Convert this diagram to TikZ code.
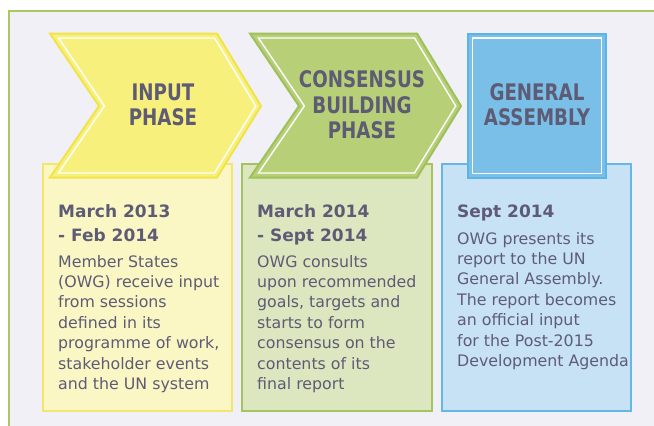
\documentclass[tikz,border=0pt]{standalone}
\usepackage{fontspec}
\setmainfont{DejaVu Sans}
\newfontfamily\titlefont[FakeStretch=0.8]{DejaVu Sans}
\definecolor{bgc}{HTML}{F2F0F7}
\definecolor{framec}{HTML}{A8C860}
\definecolor{txtc}{HTML}{5E5B75}
\definecolor{yfill}{HTML}{F8F07C}
\definecolor{yedge}{HTML}{F0E44A}
\definecolor{ybox}{HTML}{FBF7C5}
\definecolor{yboxe}{HTML}{F1E76A}
\definecolor{gfill}{HTML}{B7CF76}
\definecolor{gedge}{HTML}{9FC05A}
\definecolor{gbox}{HTML}{DCE7BF}
\definecolor{gboxe}{HTML}{A5C45E}
\definecolor{bfill}{HTML}{7ABFE8}
\definecolor{bedge}{HTML}{5BB3E6}
\definecolor{bbox}{HTML}{C8E2F5}
\definecolor{bboxe}{HTML}{63B8E8}
\tikzset{
  outershape/.style={line width=2pt, line join=miter},
  innerline/.style={draw=white, line width=1.4pt},
  textbox/.style={line width=1.1pt},
  titletxt/.style={anchor=north, inner sep=0, align=center, text=txtc,
    font=\titlefont\bfseries\fontsize{22.8}{25.7}\selectfont},
  headtxt/.style={anchor=north west, inner sep=0, align=left, text=txtc,
    font=\bfseries\fontsize{17}{24}\selectfont},
  bodytxt/.style={anchor=north west, inner sep=0, align=left, text=txtc,
    font=\fontsize{15.8}{20.4}\selectfont},
}
\begin{document}
\begin{tikzpicture}[x=1pt, y=-1pt]
\useasboundingbox (0,0) rectangle (654,426);
% frame
\fill[bgc] (9,11) rectangle (654,426);
\draw[framec, line width=1.5pt] (9,426) -- (9,11) -- (654,11);
% text boxes
\draw[textbox, fill=ybox, draw=yboxe] (43,164) rectangle (232,411);
\draw[textbox, fill=gbox, draw=gboxe] (242,164) rectangle (432,411);
\draw[textbox, fill=bbox, draw=bboxe] (442,164) rectangle (631,411);
% yellow chevron
\filldraw[outershape, fill=yfill, draw=yedge] (50,33.5) -- (217,33.5) -- (261,106) -- (217,177.5) -- (50,177.5) -- (99,106) -- cycle;
\draw[innerline] (58.5,38) -- (214.5,38) -- (255.7,106) -- (214.5,173) -- (58.5,173) -- (104.4,106) -- cycle;
% green chevron
\begin{scope}[xshift=200pt]
\filldraw[outershape, fill=gfill, draw=gedge] (50,33.5) -- (217,33.5) -- (261,106) -- (217,177.5) -- (50,177.5) -- (99,106) -- cycle;
\draw[innerline] (58.5,38) -- (214.5,38) -- (255.7,106) -- (214.5,173) -- (58.5,173) -- (104.4,106) -- cycle;
\end{scope}
% blue square
\filldraw[outershape, fill=bfill, draw=bedge] (468,33.5) rectangle (606,178);
\draw[innerline] (472.5,38) rectangle (601.5,173.5);
% titles
\node[titletxt] (t1) at (163,82) {\strut INPUT\\PHASE};
\node[titletxt] (t2) at (362,69.3) {\strut CONSENSUS\\BUILDING\\PHASE};
\node[titletxt] (t3) at (537,82) {\strut GENERAL\\ASSEMBLY};
% headings
\node[headtxt] (h1) at (58,200.2) {\strut March 2013\\- Feb 2014};
\node[headtxt] (h2) at (257,200.2) {\strut March 2014\\- Sept 2014};
\node[headtxt] (h3) at (457,200.2) {\strut Sept 2014};
% bodies
\node[bodytxt] (b1) at (58,252.7) {\strut Member States\\(OWG) receive input\\from sessions\\defined in its\\programme of work,\\stakeholder events\\and the UN system};
\node[bodytxt] (b2) at (257,252.7) {\strut OWG consults\\upon recommended\\goals, targets and\\starts to form\\consensus on the\\contents of its\\final report};
\node[bodytxt] (b3) at (457,229.7) {\strut OWG presents its\\report to the UN\\General Assembly.\\The report becomes\\an official input\\for the Post-2015\\Development Agenda};
\end{tikzpicture}
\end{document}
